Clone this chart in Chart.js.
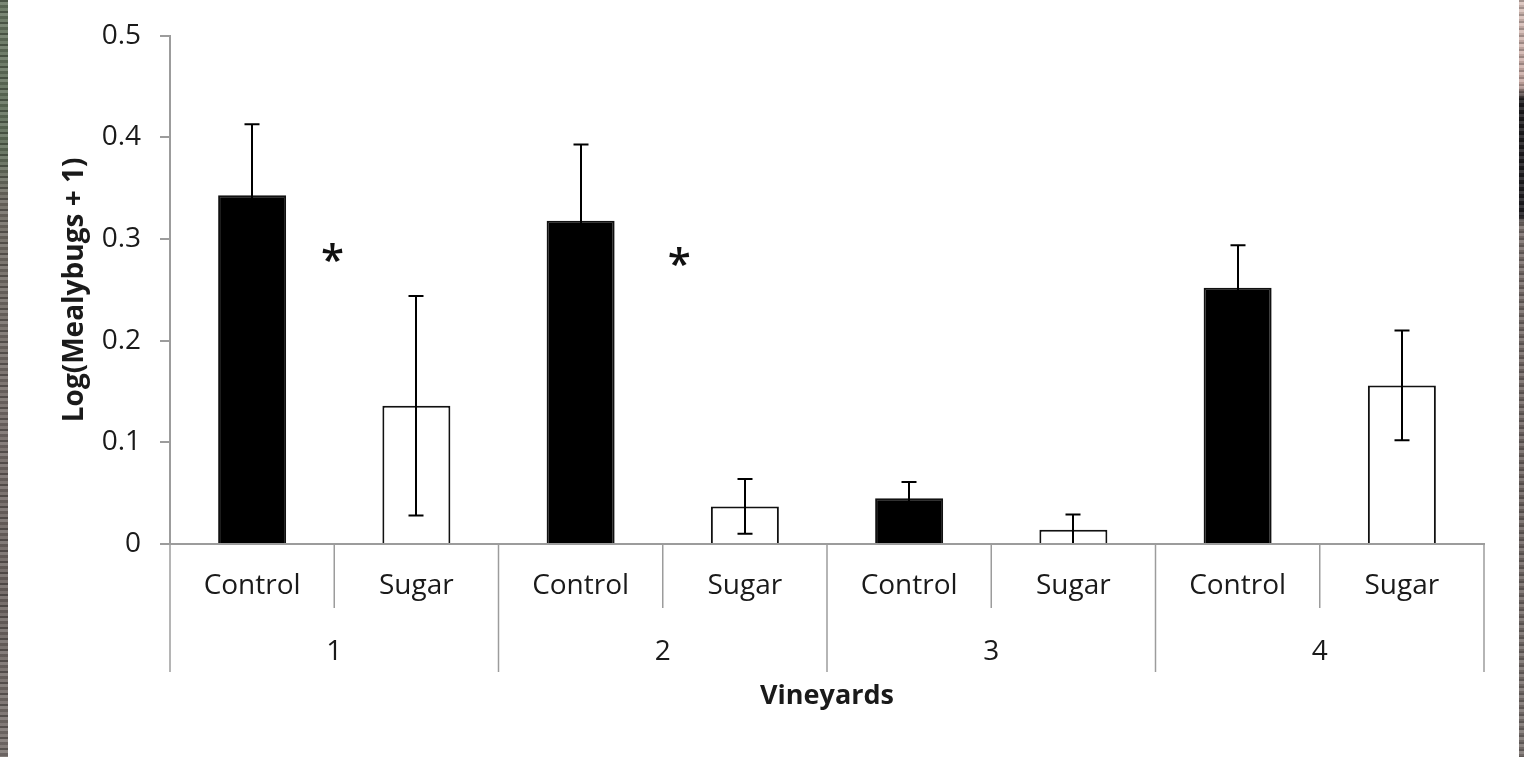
<!DOCTYPE html>
<html>
<head>
<meta charset="utf-8">
<title>Mealybugs by vineyard and treatment</title>
<script src="https://cdn.jsdelivr.net/npm/chart.js@4.4.1/dist/chart.umd.min.js"></script>
<style>
  html, body { margin: 0; padding: 0; background: #ffffff; overflow: hidden; }
  #wrap { position: relative; width: 1524px; height: 757px; background: #ffffff; }
  #chart { position: absolute; left: 0; top: 0; }
  .edge { position: absolute; top: 0; height: 757px; }
  #edgeLeft {
    left: 0; width: 8px;
    background:
      repeating-linear-gradient(180deg, rgba(0,0,0,0.28) 0 2px, rgba(255,255,255,0.14) 2px 5px, rgba(0,0,0,0.12) 5px 8px, rgba(255,255,255,0.08) 8px 11px),
      linear-gradient(180deg, #66745f 0px, #5e6d58 150px, #6f6a62 200px, #746a67 420px, #6b625f 600px, #7a726f 757px);
  }
  #edgeRight {
    left: 1519px; width: 5px;
    background:
      repeating-linear-gradient(180deg, rgba(0,0,0,0.25) 0 2px, rgba(255,255,255,0.12) 2px 5px, rgba(0,0,0,0.1) 5px 7px),
      linear-gradient(180deg, #d9c2bb 0px, #c9aaa4 85px, #1e1c1e 100px, #201e22 215px, #7c716e 225px, #6f6562 500px, #7d7572 757px);
  }
</style>
</head>
<body>
<div id="wrap">
  <canvas id="chart" width="1524" height="757"></canvas>
  <div class="edge" id="edgeLeft"></div>
  <div class="edge" id="edgeRight"></div>
</div>
<script>
// Mean log(mealybugs + 1) per vineyard, with standard errors
const vineyards = ['1', '2', '3', '4'];
const treatments = ['Control', 'Sugar'];
const controlMean = [0.343, 0.318, 0.045, 0.252];
const controlErr  = [0.070, 0.075, 0.016, 0.042];
const sugarMean   = [0.136, 0.037, 0.014, 0.156];
const sugarErr    = [0.108, 0.027, 0.015, 0.054];
const yTickValues = [0, 0.1, 0.2, 0.3, 0.4, 0.5];
// significance markers: position on the category axis and height on the value axis
const starPosition = [0.49, 2.6];
const starLevel    = [0.285, 0.281];

const FONT = '"Open Sans", "Liberation Sans", sans-serif';
const TEXT = '#1a1a1a';
const AXIS = '#9c9c9c';

// one bar per vineyard x treatment, in the order Control, Sugar
const labels = [], means = [], errs = [], fills = [];
vineyards.forEach((v, i) => {
  treatments.forEach(t => {
    labels.push(t);
    const isControl = t === 'Control';
    means.push(isControl ? controlMean[i] : sugarMean[i]);
    errs.push(isControl ? controlErr[i] : sugarErr[i]);
    fills.push(isControl ? '#000000' : '#ffffff');
  });
});

// error bars with caps, clipped to the plot area
const errorBars = {
  id: 'errorBars',
  afterDatasetsDraw(chart) {
    const { ctx, chartArea } = chart;
    const y = chart.scales.y;
    const meta = chart.getDatasetMeta(0);
    ctx.save();
    ctx.beginPath();
    ctx.rect(chartArea.left, chartArea.top, chartArea.right - chartArea.left, chartArea.bottom - chartArea.top - 1);
    ctx.clip();
    ctx.strokeStyle = '#000000';
    ctx.lineWidth = 2;
    meta.data.forEach((bar, i) => {
      const x = Math.round(bar.x);
      const top = y.getPixelForValue(means[i] + errs[i]);
      const bot = y.getPixelForValue(means[i] - errs[i]);
      const cap = 7.5;
      ctx.beginPath();
      ctx.moveTo(x, top); ctx.lineTo(x, bot);
      ctx.moveTo(x - cap, top); ctx.lineTo(x + cap, top);
      ctx.moveTo(x - cap, bot); ctx.lineTo(x + cap, bot);
      ctx.stroke();
    });
    ctx.restore();
  }
};

// two-level category axis: dividers between bars, longer ones between vineyards, vineyard numbers
const groupedAxis = {
  id: 'groupedAxis',
  afterDraw(chart) {
    const { ctx } = chart;
    const x = chart.scales.x;
    const base = chart.chartArea.bottom;
    ctx.save();
    ctx.strokeStyle = AXIS;
    ctx.lineWidth = 1.5;
    for (let k = 0; k <= labels.length; k++) {
      const px = x.getPixelForValue(k - 0.5);
      const len = (k % treatments.length === 0) ? 128 : 64;
      ctx.beginPath();
      ctx.moveTo(px, base);
      ctx.lineTo(px, base + len);
      ctx.stroke();
    }
    ctx.fillStyle = TEXT;
    ctx.font = '28px ' + FONT;
    ctx.textAlign = 'center';
    ctx.textBaseline = 'alphabetic';
    vineyards.forEach((v, g) => {
      const px = x.getPixelForValue(g * treatments.length + (treatments.length - 1) / 2);
      ctx.fillText(v, px, base + 116);
    });
    ctx.restore();
  }
};

// asterisks marking significant differences
const stars = {
  id: 'stars',
  afterDatasetsDraw(chart) {
    const { ctx } = chart;
    const x = chart.scales.x, y = chart.scales.y;
    ctx.save();
    ctx.fillStyle = '#111111';
    ctx.font = '600 42px ' + FONT;
    ctx.textAlign = 'center';
    ctx.textBaseline = 'middle';
    starPosition.forEach((p, i) => {
      ctx.fillText('*', x.getPixelForValue(p), y.getPixelForValue(starLevel[i]) + 8);
    });
    ctx.restore();
  }
};

new Chart(document.getElementById('chart'), {
  type: 'bar',
  data: {
    labels: labels,
    datasets: [{
      data: means,
      backgroundColor: fills,
      borderColor: '#111111',
      borderWidth: 2,
      categoryPercentage: 1,
      barPercentage: 0.414
    }]
  },
  options: {
    responsive: false,
    devicePixelRatio: 1,
    animation: false,
    events: [],
    layout: { padding: { top: 33, right: 40, bottom: 44, left: 50 } },
    plugins: { legend: { display: false }, tooltip: { enabled: false } },
    scales: {
      x: {
        offset: true,
        grid: { display: false, drawTicks: false },
        border: { display: true, color: AXIS, width: 2 },
        ticks: {
          color: TEXT, font: { family: FONT, size: 28 },
          padding: 25, maxRotation: 0, autoSkip: false
        },
        title: {
          display: true, text: 'Vineyards', color: TEXT,
          font: { family: FONT, size: 27, weight: 'bold' },
          padding: { top: 0, bottom: 0 }
        },
        afterFit(scale) { scale.height = 169; }
      },
      y: {
        min: 0, max: 0.5,
        afterBuildTicks(scale) { scale.ticks = yTickValues.map(v => ({ value: v })); },
        grid: { drawOnChartArea: false, drawTicks: true, tickLength: 10, color: AXIS, lineWidth: 2 },
        border: { display: true, color: AXIS, width: 2 },
        ticks: {
          color: TEXT, font: { family: FONT, size: 28 }, padding: 19,
          callback: v => (v === 0 ? '0' : v.toFixed(1))
        },
        title: {
          display: true, text: 'Log(Mealybugs + 1)', color: TEXT,
          font: { family: FONT, size: 28, weight: 'bold' },
          padding: { top: 8, bottom: 0 }
        },
        afterFit(scale) { scale.width = 120; }
      }
    }
  },
  plugins: [errorBars, groupedAxis, stars]
});
</script>
</body>
</html>
